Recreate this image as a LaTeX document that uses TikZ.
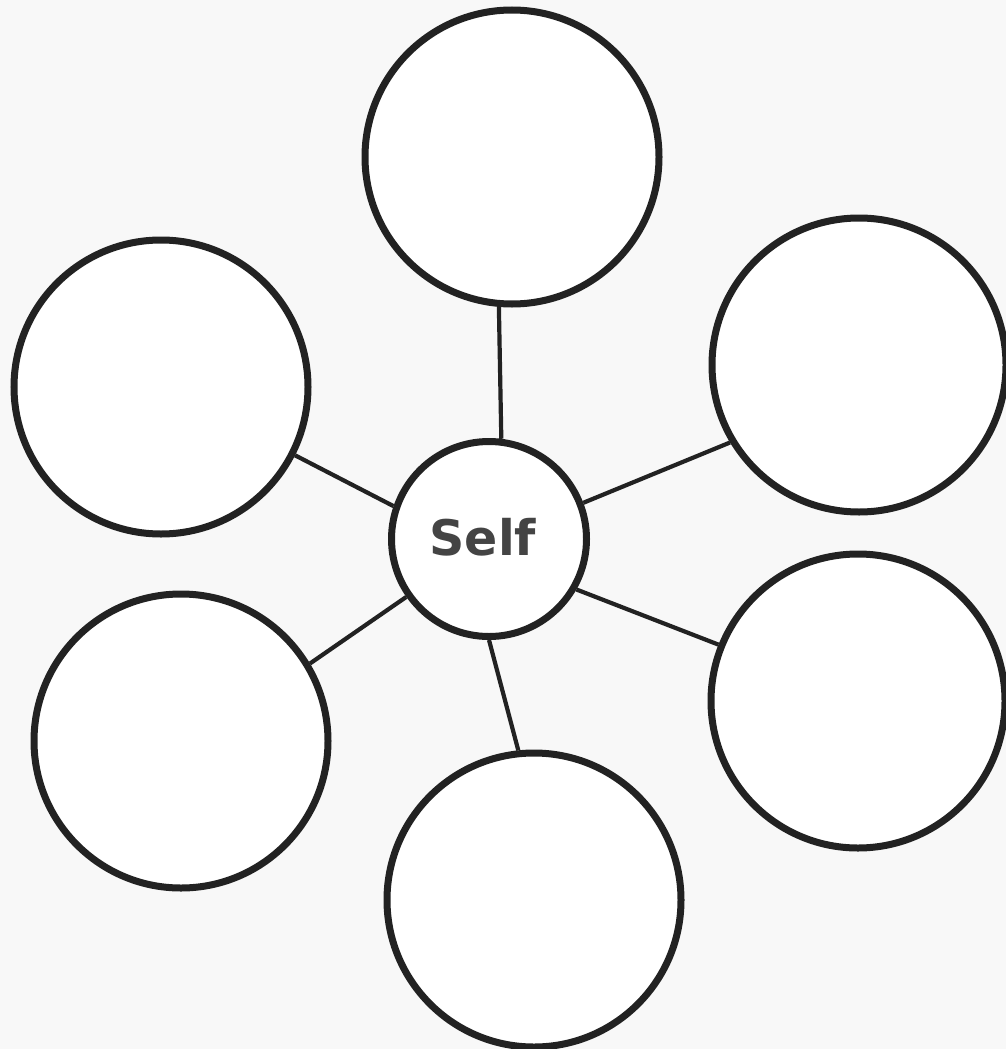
\documentclass[tikz,border=0pt]{standalone}
\usepackage{fontspec}
\setmainfont{DejaVu Sans}
\definecolor{bg}{HTML}{F8F8F8}
\definecolor{ink}{HTML}{222222}
\definecolor{txt}{HTML}{444444}
\begin{document}
\begin{tikzpicture}[x=1pt,y=-1pt,
  bubble/.style={circle,draw=ink,line width=7pt,fill=white,minimum size=294pt,inner sep=0pt},
  hub/.style={circle,draw=ink,line width=7pt,fill=white,minimum size=195pt,inner sep=0pt},
  link/.style={draw=ink,line width=4.2pt}]
\fill[bg] (0,0) rectangle (1006,1049);
\useasboundingbox (0,0) rectangle (1006,1049);
\node[bubble] (t)  at (512,157) {};
\node[bubble] (ul) at (161,387) {};
\node[bubble] (ur) at (859,365) {};
\node[bubble] (ll) at (181,741) {};
\node[bubble] (lr) at (858,701) {};
\node[bubble] (b)  at (534,900) {};
\node[hub] (c) at (489,539) {};
\node[text=txt,font=\bfseries\fontsize{49}{49}\selectfont] (self) at (483,537) {Self};
\draw[link] (c.83.7) -- (t.265.4);
\draw[link] (c.270.6) -- (b.96.1);
\draw[link] (c.161.7) -- (ul.333.6);
\draw[link] (c.21.0) -- (ur.211.0);
\draw[link] (c.215.1) -- (ll.31.1);
\draw[link] (c.330.2) -- (lr.158.9);
\end{tikzpicture}
\end{document}
